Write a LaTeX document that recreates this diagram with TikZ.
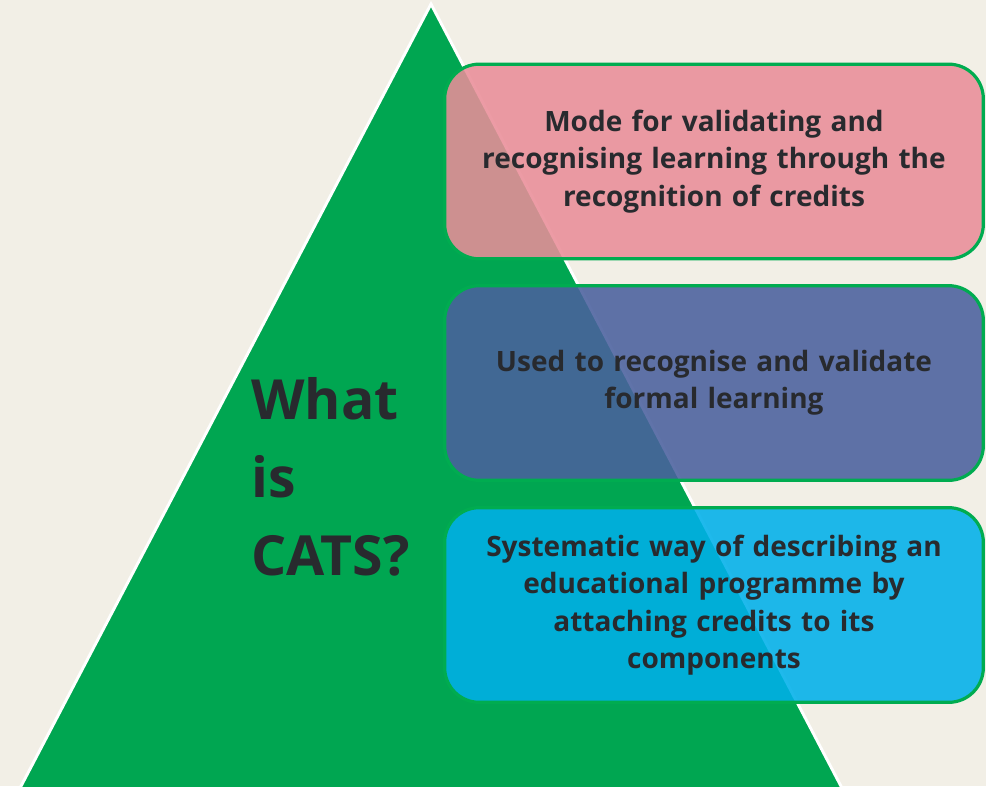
\documentclass[tikz,border=0pt]{standalone}
\usepackage{fontspec}
\setmainfont{Open Sans}
\usepackage{tikz}
\usetikzlibrary{positioning}

\definecolor{bgbeige}{RGB}{242,239,230}
\definecolor{trigreen}{RGB}{0,166,81}
\definecolor{edgegreen}{RGB}{0,172,80}
\definecolor{boxpink}{RGB}{234,142,153}
\definecolor{boxblue}{RGB}{74,96,158}
\definecolor{boxcyan}{RGB}{0,176,234}
\definecolor{txtdark}{RGB}{40,42,46}

\tikzset{
	cardbox/.style={draw=edgegreen, line width=2.4, rounded corners=26pt, fill opacity=0.88, text opacity=1,
		minimum width=404pt, minimum height=146pt, inner sep=0pt},
	cardtext/.style={text=txtdark, font=\fontsize{21}{28}\selectfont\bfseries, align=center, text width=395pt},
}

\begin{document}
\begin{tikzpicture}[x=0.75pt,y=0.75pt,yscale=-1,xscale=1]
	%set diagram to 986 x 786
	\fill[bgbeige] (0,0) rectangle (986,786);
	\useasboundingbox (0,0) rectangle (986,786);
	
	%Shape: Triangle
	\begin{scope}
		\clip (0,0) rectangle (986,786);
		\coordinate (apex) at (431,4);
		\coordinate (baseleft) at (19,790);
		\coordinate (baseright) at (843,790);
		\draw[white, line width=2.2, fill=trigreen] (apex) -- (baseright) -- (baseleft) -- cycle;
	\end{scope}
	
	%Shape: Rounded Rectangles
	\node[cardbox, fill=boxpink] (modebox) at (714,161.5) {};
	\node[cardbox, fill=boxblue] (usedbox) at (714,383) {};
	\node[cardbox, fill=boxcyan] (systbox) at (714,605) {};
	
	% Text Node
	\node[cardtext] (modetext) at (modebox.center) {Mode for validating and\\recognising learning through the\\recognition of credits};
	% Text Node
	\node[cardtext] (usedtext) at (usedbox.center) {Used to recognise and validate\\formal learning};
	% Text Node
	\node[cardtext] (systtext) at (systbox.center) {Systematic way of describing an\\educational programme by\\attaching credits to its\\components};
	% Text Node
	\node[anchor=west, inner sep=0pt, text=txtdark, align=left, font=\fontsize{41.5}{58.5}\selectfont\bfseries] (title) at (251,477) {What\\is\\CATS?};
\end{tikzpicture}
\end{document}
